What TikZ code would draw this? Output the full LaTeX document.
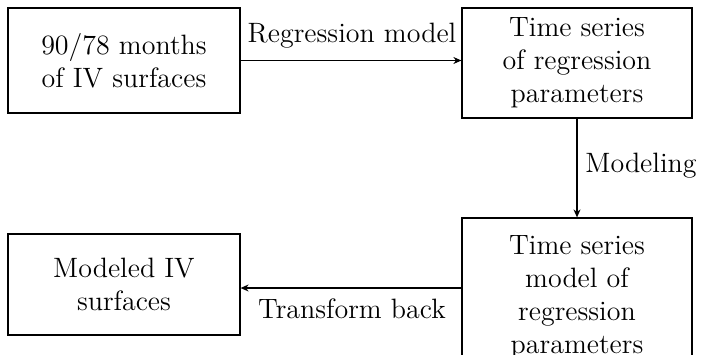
\documentclass[tikz,border=0pt]{standalone}
\usetikzlibrary{arrows.meta}
\begin{document}
\begin{tikzpicture}[x=0.5pt,y=-0.5pt,
  box/.style={draw,line width=0.6pt,align=center,inner sep=0pt,font=\fontsize{14}{16.5}\selectfont},
  lbl/.style={inner sep=0pt,font=\fontsize{14}{16.5}\selectfont},
  arr/.style={line width=0.6pt,-{Stealth[length=4pt,width=3.5pt]}}]
\useasboundingbox (0,0) rectangle (701,354);
\node[box,minimum width=116pt,minimum height=52.5pt] (A) at (124,60.5) {90/78 months\\of IV surfaces};
\node[box,minimum width=115pt,minimum height=55pt] (B) at (577,63) {Time series\\of regression\\parameters};
\node[box,minimum width=116pt,minimum height=50.5pt] (C) at (124,284.5) {Modeled IV\\surfaces};
\node[box,minimum width=115pt,minimum height=79pt] (D) at (577,297) {Time series\\model of\\regression\\parameters};
\coordinate (t) at (462,288);
\draw[arr] (A.east) -- (A.east -| B.west);
\draw[arr] (B.south) -- (D.north);
\draw[arr] (t) -- (t -| C.east);
\node[lbl] (l1) at (352,36) {Regression model};
\node[lbl] (l2) at (641,166) {Modeling};
\node[lbl] (l3) at (352,309) {Transform back};
\end{tikzpicture}
\end{document}
